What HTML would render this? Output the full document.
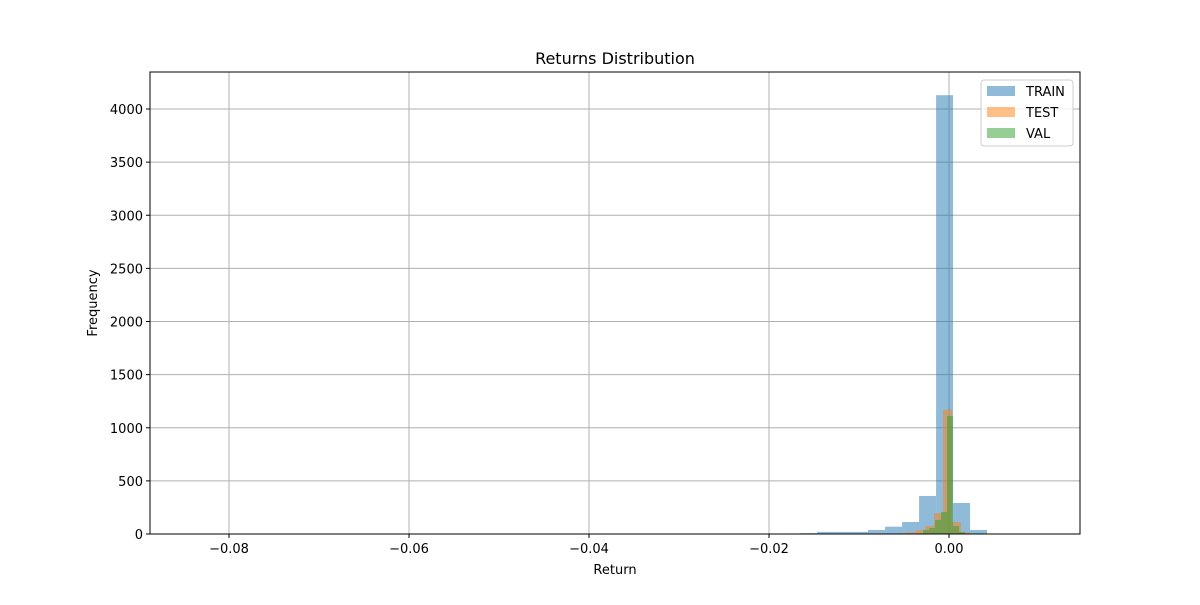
<!DOCTYPE html>
<html><head><meta charset="utf-8"><style>
body{margin:0;background:#fff;font-family:"Liberation Sans","DejaVu Sans",sans-serif}
svg text{font-family:"DejaVu Sans","Liberation Sans",sans-serif;font-size:13px;fill:#000}
</style></head><body>
<svg id="chart" width="1200" height="600" xmlns="http://www.w3.org/2000/svg">
<rect width="1200" height="600" fill="#fff"/>
<g id="grid"></g><g id="bars"></g><g id="axes"></g>
</svg>
<script>
const xTicks=[-0.08,-0.06,-0.04,-0.02,0.00];
const yTicks=[0,500,1000,1500,2000,2500,3000,3500,4000];
const trainStart=-0.08833, trainWidth=0.001889;
const trainCounts=[2,1,1,1,1,1,0,0,0,0,0,0,0,0,0,0,0,0,0,0,0,0,0,0,0,0,0,0,0,0,0,0,0,0,1,2,3,5,8,20,20,20,38,69,113,358,4130,292,38,5,3];
const testStart=-0.00667, testWidth=0.001;
const testCounts=[5,8,15,38,75,197,1170,113,15,3];
const valStart=-0.00289, valWidth=0.000667;
const valCounts=[38,56,132,207,1110,75,20];
const L=150,R=1080,T=72,B=534;
const xs=v=>949+v*9000;
const ys=v=>B-v*0.10625;
const NS="http://www.w3.org/2000/svg";
function mk(tag,attrs,parent,text){const e=document.createElementNS(NS,tag);for(const k in attrs)e.setAttribute(k,attrs[k]);if(text!==undefined)e.textContent=text;parent.appendChild(e);return e;}
const grid=document.getElementById('grid'),bars=document.getElementById('bars'),axes=document.getElementById('axes');
xTicks.forEach(t=>{const x=xs(t);
 const g=mk('line',{x1:x,x2:x,y1:T,y2:B,stroke:'#b0b0b0','stroke-width':1},grid);
 
 mk('line',{x1:x,x2:x,y1:B,y2:B+4,stroke:'#000'},axes);
 const lb=mk('text',{x:x,y:B+19,'text-anchor':'middle'},axes,(t<0?'\u2212':'')+Math.abs(t).toFixed(2));
 });
yTicks.forEach(t=>{const y=ys(t);
 const g=mk('line',{x1:L,x2:R,y1:y,y2:y,stroke:'#b0b0b0','stroke-width':1},grid);
 
 mk('line',{x1:L-4,x2:L,y1:y,y2:y,stroke:'#000'},axes);
 const lb=mk('text',{x:L-7,y:y+5,'text-anchor':'end'},axes,String(t));
 });
function hist(start,w,counts,color,name){counts.forEach((c,i)=>{if(c<=0)return;
 const x0=xs(start+i*w),x1=xs(start+(i+1)*w);
 const r=mk('rect',{x:x0,y:ys(c),width:x1-x0,height:B-ys(c),fill:color,'fill-opacity':0.5},bars);
 });}
hist(trainStart,trainWidth,trainCounts,'#1f77b4','train');
hist(testStart,testWidth,testCounts,'#ff7f0e','test');
hist(valStart,valWidth,valCounts,'#2ca02c','val');
mk('rect',{x:L,y:T,width:R-L,height:B-T,fill:'none',stroke:'#000','stroke-width':1},axes);
const tt=mk('text',{x:615,y:64,'text-anchor':'middle',style:'font-size:16px'},axes,'Returns Distribution');

const xt=mk('text',{x:615,y:574,'text-anchor':'middle'},axes,'Return');

const yt=mk('text',{x:97,y:303,'text-anchor':'middle',transform:'rotate(-90 97 303)'},axes,'Frequency');

const lg=mk('g',{},axes);

mk('rect',{x:981,y:80,width:92,height:66,rx:3,fill:'#fff','fill-opacity':0.8,stroke:'#ccc'},lg);
[['TRAIN','#1f77b4'],['TEST','#ff7f0e'],['VAL','#2ca02c']].forEach((d,i)=>{
 const y=86+i*21;
 const sw=mk('rect',{x:987,y:y,width:28,height:10,fill:d[1],'fill-opacity':0.5},lg);
 
 const t=mk('text',{x:1026,y:y+10},lg,d[0]);
 });
</script>
</body></html>
